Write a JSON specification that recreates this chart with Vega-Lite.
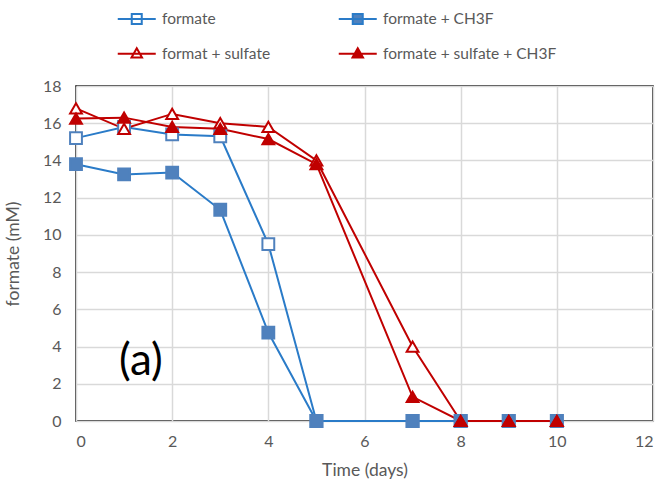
{
  "$schema": "https://vega.github.io/schema/vega-lite/v6.json",
  "width": 577,
  "height": 335,
  "autosize": "none",
  "padding": {"left": 76, "top": 86, "right": 13, "bottom": 64},
  "background": "white",
  "config": {
    "font": "Lato",
    "view": {"stroke": "black", "strokeWidth": 1.5},
    "axis": {
      "grid": true,
      "gridColor": "#d9d9d9",
      "gridWidth": 1.5,
      "domain": false,
      "ticks": false,
      "labelColor": "#595959",
      "labelFontSize": 16,
      "titleColor": "#595959",
      "titleFontSize": 17.5,
      "titleFontWeight": "normal",
      "labelFont": "Lato",
      "titleFont": "Lato"
    },
    "legend": {
      "title": null,
      "orient": "none",
      "legendX": 53,
      "legendY": -75,
      "columns": 2,
      "direction": "horizontal",
      "columnPadding": 63,
      "rowPadding": 16,
      "padding": 0,
      "labelFontSize": 15.5,
      "labelColor": "#595959",
      "labelFont": "Lato",
      "labelLimit": 400,
      "symbolSize": 100,
      "symbolStrokeWidth": 2,
      "symbolOpacity": 1,
      "labelOffset": 17.5
    }
  },
  "resolve": {"scale": {"shape": "independent", "fill": "independent", "stroke": "independent", "color": "independent"}},
  "data": {
    "values": [
      {"series": "formate", "day": 0, "mM": 15.2},
      {"series": "formate", "day": 1, "mM": 15.8},
      {"series": "formate", "day": 2, "mM": 15.4},
      {"series": "formate", "day": 3, "mM": 15.3},
      {"series": "formate", "day": 4, "mM": 9.5},
      {"series": "formate", "day": 5, "mM": 0},
      {"series": "formate", "day": 7, "mM": 0},
      {"series": "formate", "day": 8, "mM": 0},
      {"series": "formate", "day": 9, "mM": 0},
      {"series": "formate", "day": 10, "mM": 0},
      {"series": "formate + CH3F", "day": 0, "mM": 13.8},
      {"series": "formate + CH3F", "day": 1, "mM": 13.25},
      {"series": "formate + CH3F", "day": 2, "mM": 13.35},
      {"series": "formate + CH3F", "day": 3, "mM": 11.35},
      {"series": "formate + CH3F", "day": 4, "mM": 4.75},
      {"series": "formate + CH3F", "day": 5, "mM": 0},
      {"series": "formate + CH3F", "day": 7, "mM": 0},
      {"series": "formate + CH3F", "day": 8, "mM": 0},
      {"series": "formate + CH3F", "day": 9, "mM": 0},
      {"series": "formate + CH3F", "day": 10, "mM": 0},
      {"series": "format + sulfate", "day": 0, "mM": 16.8},
      {"series": "format + sulfate", "day": 1, "mM": 15.7},
      {"series": "format + sulfate", "day": 2, "mM": 16.5},
      {"series": "format + sulfate", "day": 3, "mM": 16.0},
      {"series": "format + sulfate", "day": 4, "mM": 15.8},
      {"series": "format + sulfate", "day": 5, "mM": 14.0},
      {"series": "format + sulfate", "day": 7, "mM": 4.0},
      {"series": "format + sulfate", "day": 8, "mM": 0},
      {"series": "format + sulfate", "day": 9, "mM": 0},
      {"series": "format + sulfate", "day": 10, "mM": 0},
      {"series": "formate + sulfate + CH3F", "day": 0, "mM": 16.25},
      {"series": "formate + sulfate + CH3F", "day": 1, "mM": 16.3},
      {"series": "formate + sulfate + CH3F", "day": 2, "mM": 15.8},
      {"series": "formate + sulfate + CH3F", "day": 3, "mM": 15.7},
      {"series": "formate + sulfate + CH3F", "day": 4, "mM": 15.15},
      {"series": "formate + sulfate + CH3F", "day": 5, "mM": 13.8},
      {"series": "formate + sulfate + CH3F", "day": 7, "mM": 1.3},
      {"series": "formate + sulfate + CH3F", "day": 8, "mM": 0},
      {"series": "formate + sulfate + CH3F", "day": 9, "mM": 0},
      {"series": "formate + sulfate + CH3F", "day": 10, "mM": 0}
    ]
  },
  "encoding": {
    "x": {
      "field": "day",
      "type": "quantitative",
      "scale": {"domain": [0, 12], "nice": false, "zero": false},
      "axis": {"values": [0, 2, 4, 6, 8, 10, 12], "labelPadding": 12, "titlePadding": 12, "title": "Time (days)"}
    },
    "y": {
      "field": "mM",
      "type": "quantitative",
      "scale": {"domain": [0, 18], "nice": false},
      "axis": {"values": [0, 2, 4, 6, 8, 10, 12, 14, 16, 18], "labelPadding": 15, "titlePadding": 20, "title": "formate (mM)"}
    }
  },
  "layer": [
    {
      "mark": {"type": "line", "strokeWidth": 2},
      "encoding": {
        "color": {
          "field": "series",
          "type": "nominal",
          "scale": {
            "domain": ["formate", "formate + CH3F", "format + sulfate", "formate + sulfate + CH3F"],
            "range": ["#2A7BC8", "#2A7BC8", "#C00000", "#C00000"]
          },
          "legend": null
        }
      }
    },
    {
      "mark": {"type": "point", "filled": true, "size": 140, "strokeWidth": 2, "opacity": 1},
      "encoding": {
        "shape": {
          "field": "series",
          "type": "nominal",
          "scale": {
            "domain": ["formate", "formate + CH3F", "format + sulfate", "formate + sulfate + CH3F"],
            "range": ["square", "square", "triangle-up", "triangle-up"]
          },
          "legend": null
        },
        "fill": {
          "field": "series",
          "type": "nominal",
          "scale": {
            "domain": ["formate", "formate + CH3F", "format + sulfate", "formate + sulfate + CH3F"],
            "range": ["white", "#4F81BD", "white", "#C00000"]
          },
          "legend": null
        },
        "stroke": {
          "field": "series",
          "type": "nominal",
          "scale": {
            "domain": ["formate", "formate + CH3F", "format + sulfate", "formate + sulfate + CH3F"],
            "range": ["#4F81BD", "#4F81BD", "#C00000", "#C00000"]
          },
          "legend": null
        }
      }
    },
    {
      "transform": [{"filter": "datum.day < 0"}],
      "mark": {"type": "point", "filled": true, "size": 100, "strokeWidth": 2, "opacity": 1},
      "encoding": {
        "shape": {
          "field": "series",
          "type": "nominal",
          "scale": {
            "domain": ["formate", "formate + CH3F", "format + sulfate", "formate + sulfate + CH3F"],
            "range": ["M-3.8,0H3.8M-1,-1H1V1H-1Z", "M-3.8,0H3.8M-1,-1H1V1H-1Z", "M-3.8,0H3.8M0,-1.1L1.05,0.75H-1.05Z", "M-3.8,0H3.8M0,-1.1L1.05,0.75H-1.05Z"]
          }
        },
        "fill": {
          "field": "series",
          "type": "nominal",
          "scale": {
            "domain": ["formate", "formate + CH3F", "format + sulfate", "formate + sulfate + CH3F"],
            "range": ["white", "#4F81BD", "white", "#C00000"]
          }
        },
        "stroke": {
          "field": "series",
          "type": "nominal",
          "scale": {
            "domain": ["formate", "formate + CH3F", "format + sulfate", "formate + sulfate + CH3F"],
            "range": ["#2A7BC8", "#2A7BC8", "#C00000", "#C00000"]
          }
        }
      }
    },
    {
      "data": {"values": [{"day": 1.35, "mM": 3.15, "label": "(a)"}]},
      "mark": {"type": "text", "fontSize": 44, "font": "Lato", "color": "black", "align": "center", "baseline": "middle"},
      "encoding": {"text": {"field": "label"}}
    }
  ]
}
